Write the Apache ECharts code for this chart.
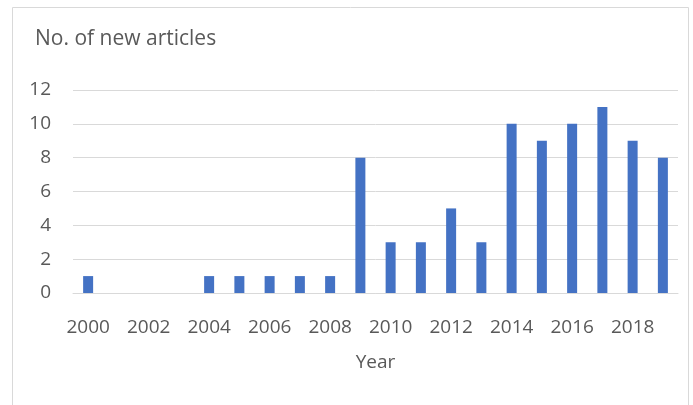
<!DOCTYPE html>
<html><head><meta charset="utf-8">
<script src="https://cdn.jsdelivr.net/npm/echarts@6/dist/echarts.min.js"></script>
<style>html,body{margin:0;padding:0;background:#fff}#c{width:693px;height:405px}</style>
</head><body><div id="c"></div>
<script>
const years = ['2000','2001','2002','2003','2004','2005','2006','2007','2008','2009','2010','2011','2012','2013','2014','2015','2016','2017','2018','2019'];
const articles = [1,0,0,0,1,1,1,1,1,8,3,3,5,3,10,9,10,11,9,8];
const yTicks = [0,2,4,6,8,10,12];
const titleText = 'No. of new articles';
const xName = 'Year';

const chart = echarts.init(document.getElementById('c'));
const font = '"Open Sans", sans-serif';
chart.setOption({
  animation:false,
  graphic:[{type:'rect',shape:{x:12.5,y:7.5,width:676,height:420},style:{fill:'none',stroke:'#d9d9d9',lineWidth:1}}],
  title:{text:titleText,left:30,top:24,textStyle:{fontFamily:font,fontSize:21,fontWeight:'normal',color:'#595959'}},
  grid:{left:73,right:15,top:90,bottom:112},
  xAxis:{type:'category',data:years,name:xName,nameLocation:'middle',nameGap:60,
    nameTextStyle:{fontFamily:font,fontSize:19,color:'#595959'},
    axisLine:{lineStyle:{color:'#d9d9d9'}},axisTick:{show:false},
    axisLabel:{interval:1,margin:25,fontFamily:font,fontSize:19,color:'#595959'}},
  yAxis:{type:'value',min:yTicks[0],max:yTicks[yTicks.length-1],interval:2,
    axisLine:{show:false},axisTick:{show:false},
    axisLabel:{margin:22,fontFamily:font,fontSize:19,color:'#595959'},
    splitLine:{lineStyle:{color:'#d9d9d9'}}},
  series:[{type:'bar',data:articles,barWidth:10,itemStyle:{color:'#4472C4'}}]
});
</script></body></html>
